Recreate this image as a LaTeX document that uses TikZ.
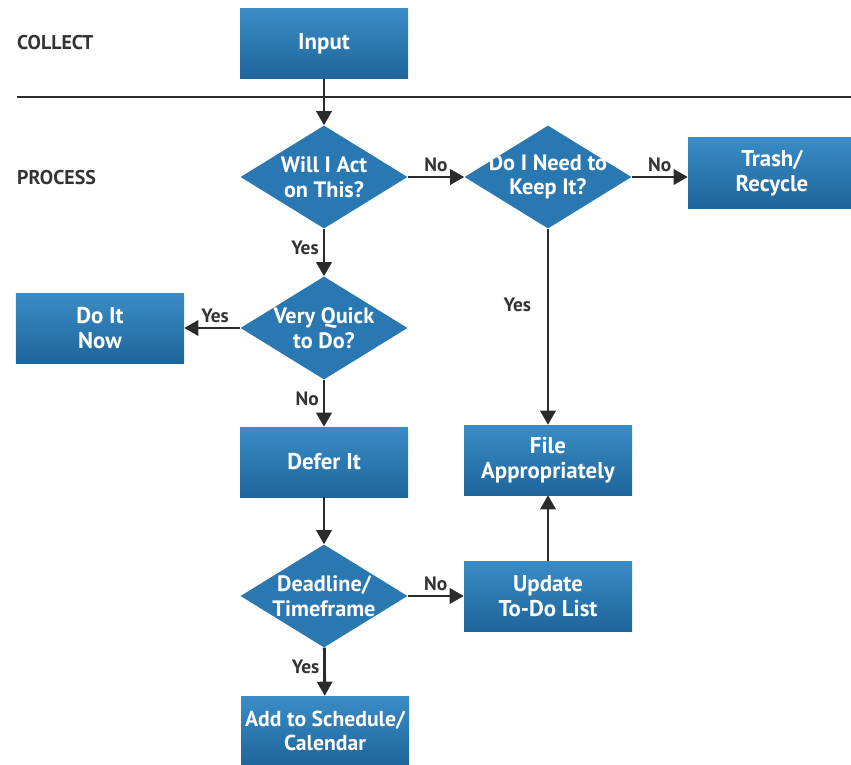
\documentclass[tikz,border=0pt]{standalone}
\usepackage{fontspec}
\setmainfont{PT Sans}
\usetikzlibrary{shapes.geometric,arrows.meta}

\definecolor{boxtop}{HTML}{3A8CC6}
\definecolor{boxbot}{HTML}{1E659B}
\definecolor{askfill}{HTML}{2A78B2}
\definecolor{linegray}{HTML}{2B2B2B}
\definecolor{textgray}{HTML}{333333}

\tikzset{
    blockbox/.style={rectangle, minimum width=5.04cm, minimum height=2.1cm, inner sep=0pt,
        top color=boxtop, bottom color=boxbot, text=white, align=center,
        font=\fontsize{19.5}{21}\selectfont\bfseries},
    asktext/.style={text=white, align=center, inner sep=0pt,
        font=\fontsize{19}{21}\selectfont\bfseries},
    askbox/.style={diamond, minimum width=5.01cm, minimum height=3.09cm, inner sep=0pt,
        fill=askfill, label={[asktext]center:#1}},
    flow/.style={line width=2.4pt, color=linegray, -{Triangle[length=12pt,width=13pt]}},
    lbl/.style={text=textgray, font=\fontsize{16.5}{18}\selectfont\bfseries},
    head/.style={text=textgray, inner sep=0pt, font=\fontsize{17}{18}\selectfont\bfseries},
}

\begin{document}
\begin{tikzpicture}[x=0.03cm, y=-0.03cm]
    \useasboundingbox (0,0) rectangle (851,764);

    % section headings and rule
    \node[head, anchor=west] (collect) at (17,43) {COLLECT};
    \node[head, anchor=west] (process) at (17,178) {PROCESS};
    \coordinate (ruleL) at (17,97);
    \coordinate (ruleR) at (851,97);
    \draw[line width=2.4pt, color=linegray] (ruleL) -- (ruleR);

    % boxes
    \node[blockbox] (input)  at (324,44)  {Input};
    \node[blockbox] (trash)  at (772,173) {Trash/\\Recycle};
    \node[blockbox] (donow)  at (100,328) {Do It\\Now};
    \node[blockbox] (defer)  at (324,462) {Defer It};
    \node[blockbox] (file)   at (548,460) {File\\Appropriately};
    \node[blockbox] (update) at (548,596) {Update\\To-Do List};
    \node[blockbox, font=\fontsize{18.5}{21}\selectfont\bfseries] (add) at (325,731) {Add to Schedule/\\Calendar};

    % questions
    \node[askbox={Will I Act\\on This?}]    (act)      at (324,177) {};
    \node[askbox={Do I Need to\\Keep It?}]  (keep)     at (548,177) {};
    \node[askbox={Very Quick\\to Do?}]      (quick)    at (324,328) {};
    \node[askbox={Deadline/\\Timeframe}]    (deadline) at (324,596) {};

    % connectors
    \draw[flow] (input) -- (act);
    \draw[flow] (act) -- node[lbl, above] {No} (keep);
    \draw[flow] (keep.east) -- node[lbl, above] {No} (keep.east -| trash.west);
    \draw[flow] (act) -- node[lbl, pos=0.4, left] {Yes} (quick);
    \draw[flow] (quick) -- node[lbl, above, pos=0.45] {Yes} (donow);
    \draw[flow] (quick) -- node[lbl, pos=0.4, left] {No} (defer);
    \draw[flow] (defer) -- (deadline);
    \draw[flow] (deadline) -- node[lbl, above] {No} (update);
    \draw[flow] (deadline) -- node[lbl, pos=0.4, left] {Yes} (add);
    \draw[flow] (keep) -- node[lbl, pos=0.39, left, xshift=-10pt] {Yes} (file);
    \draw[flow] (update) -- (file);
\end{tikzpicture}
\end{document}
